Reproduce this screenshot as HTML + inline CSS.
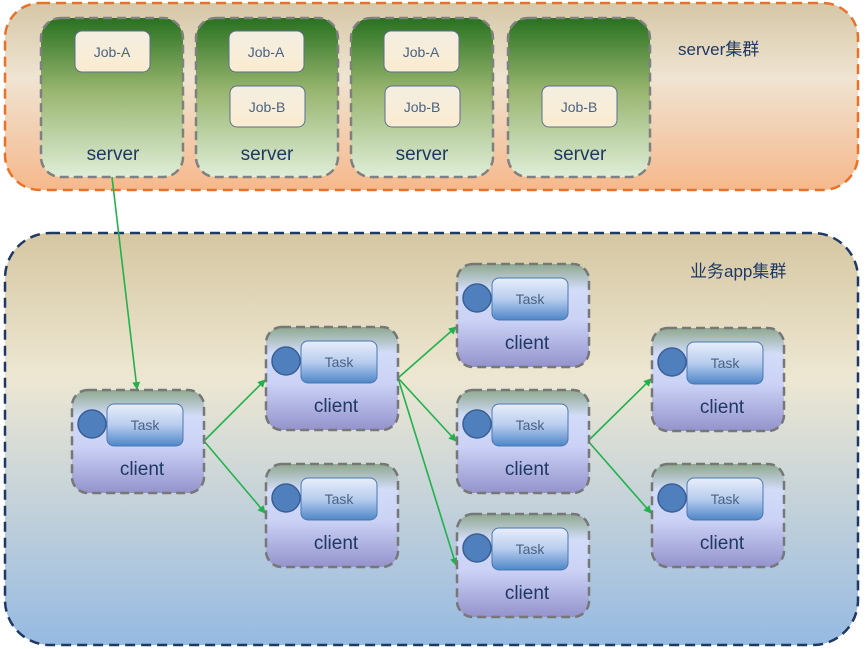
<!DOCTYPE html>
<html><head><meta charset="utf-8"><style>body{margin:0;background:#fff}svg{display:block}text{font-family:"Liberation Sans","Noto Sans CJK SC",sans-serif}</style></head><body>
<svg width="866" height="649" viewBox="0 0 866 649" xmlns="http://www.w3.org/2000/svg">
<defs>
<linearGradient id="g1" x1="0" y1="0" x2="0" y2="1"><stop offset="0" stop-color="#d5c7a6"/><stop offset="0.4" stop-color="#efe4d2"/><stop offset="1" stop-color="#f6b88c"/></linearGradient>
<linearGradient id="g2" x1="0" y1="0" x2="0" y2="1"><stop offset="0" stop-color="#d6c7a2"/><stop offset="0.35" stop-color="#ede7d2"/><stop offset="1" stop-color="#96bae2"/></linearGradient>
<linearGradient id="gs" x1="0" y1="0" x2="0" y2="1"><stop offset="0" stop-color="#287120"/><stop offset="0.45" stop-color="#97b46e"/><stop offset="1" stop-color="#dfeed8"/></linearGradient>
<linearGradient id="gj" x1="0" y1="0" x2="0" y2="1"><stop offset="0" stop-color="#f3eee2"/><stop offset="1" stop-color="#fbeccf"/></linearGradient>
<linearGradient id="gc" x1="0" y1="0" x2="0" y2="1"><stop offset="0" stop-color="#8fa890"/><stop offset="0.25" stop-color="#d2dcf8"/><stop offset="0.55" stop-color="#cbd2f6"/><stop offset="1" stop-color="#9493cc"/></linearGradient>
<linearGradient id="gt" x1="0" y1="0" x2="0" y2="1"><stop offset="0" stop-color="#e8eefa"/><stop offset="0.5" stop-color="#b8cdee"/><stop offset="1" stop-color="#4f86c8"/></linearGradient>
<marker id="ar" markerWidth="8" markerHeight="8" refX="7" refY="4" orient="auto" markerUnits="userSpaceOnUse"><path d="M0,0 L8,4 L0,8 z" fill="#22b14c"/></marker>
</defs>
<rect x="5" y="3" width="853" height="187" rx="35" fill="url(#g1)" stroke="#e8722a" stroke-width="2.5" stroke-dasharray="10,6"/>
<rect x="5" y="233" width="853" height="412" rx="45" fill="url(#g2)" stroke="#1f3864" stroke-width="2.5" stroke-dasharray="10,6"/>
<text x="678" y="55" font-size="17" fill="#1f3864">server集群</text>
<text x="690" y="277" font-size="17" fill="#1f3864">业务app集群</text>
<g stroke="#808080" stroke-width="2.5" stroke-dasharray="9,5" fill="url(#gs)">
<rect x="41" y="18" width="142" height="159" rx="20"/><rect x="196" y="18" width="142" height="159" rx="20"/><rect x="351" y="18" width="142" height="159" rx="20"/><rect x="508" y="18" width="142" height="159" rx="20"/>
</g>
<g fill="url(#gj)" stroke="#5b6f8f" stroke-width="1">
<rect x="75" y="31" width="75" height="41" rx="7"/><rect x="229" y="31" width="75" height="41" rx="7"/><rect x="384" y="31" width="75" height="41" rx="7"/>
<rect x="230" y="86" width="75" height="41" rx="7"/><rect x="385" y="86" width="75" height="41" rx="7"/><rect x="542" y="86" width="75" height="41" rx="7"/>
</g>
<g font-size="14" fill="#4a6284" text-anchor="middle">
<text x="112" y="57">Job-A</text><text x="266" y="57">Job-A</text><text x="421" y="57">Job-A</text>
<text x="267" y="112">Job-B</text><text x="422" y="112">Job-B</text><text x="579" y="112">Job-B</text>
</g>
<g font-size="19" fill="#1f3864" text-anchor="middle">
<text x="113" y="160">server</text><text x="267" y="160">server</text><text x="422" y="160">server</text><text x="580" y="160">server</text>
</g>
<g stroke="#22b14c" stroke-width="1.6" marker-end="url(#ar)">
<line x1="112" y1="177" x2="137" y2="389"/>
<line x1="204" y1="441" x2="265" y2="380"/><line x1="204" y1="441" x2="265" y2="513"/>
<line x1="398" y1="378" x2="456" y2="327"/><line x1="398" y1="378" x2="456" y2="441"/><line x1="398" y1="378" x2="456" y2="565"/>
<line x1="588" y1="441" x2="651" y2="379"/><line x1="588" y1="441" x2="651" y2="513"/>
</g>
<defs>
<g id="cl">
<rect x="0" y="0" width="132" height="103" rx="16" fill="url(#gc)" stroke="#777" stroke-width="2.5" stroke-dasharray="9,5"/>
<rect x="35" y="14" width="76" height="42" rx="7" fill="url(#gt)" stroke="#4a78b0" stroke-width="1"/>
<circle cx="20" cy="34" r="14" fill="#4f7fbd" stroke="#3a5f95" stroke-width="1.5"/>
<text x="73" y="40" font-size="14" fill="#4a6284" text-anchor="middle">Task</text>
<text x="70" y="85" font-size="19" fill="#1f3864" text-anchor="middle">client</text>
</g>
</defs>
<use href="#cl" x="72" y="390"/>
<use href="#cl" x="266" y="327"/>
<use href="#cl" x="266" y="464"/>
<use href="#cl" x="457" y="264"/>
<use href="#cl" x="457" y="390"/>
<use href="#cl" x="457" y="514"/>
<use href="#cl" x="652" y="328"/>
<use href="#cl" x="652" y="464"/>
</svg>
</body></html>
